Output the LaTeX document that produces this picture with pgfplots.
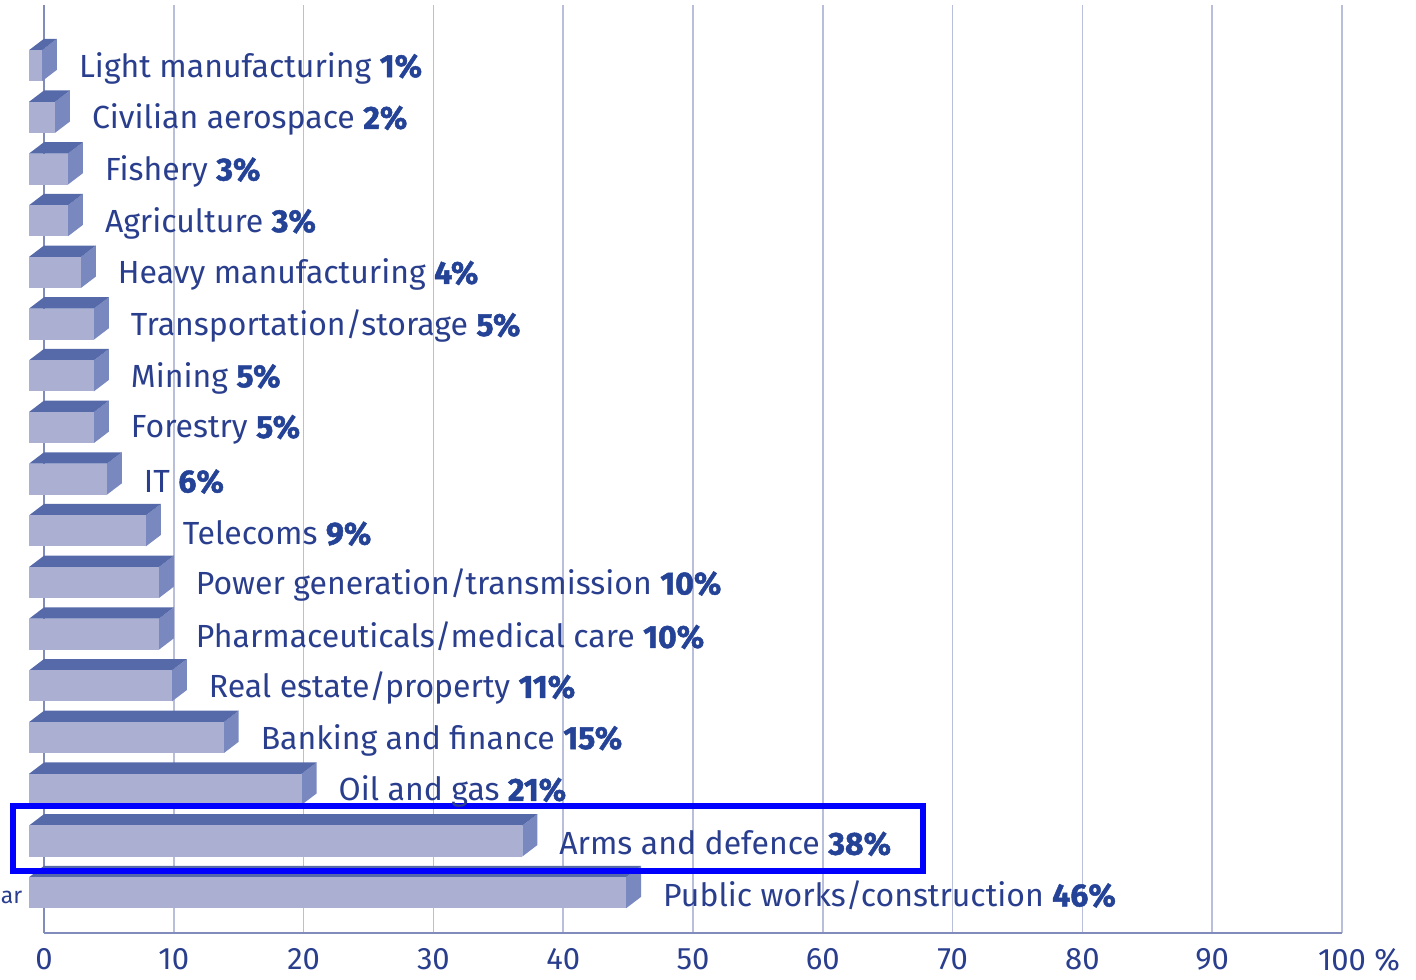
\documentclass[border=0pt]{standalone}
\usepackage{pgfplots}
\pgfplotsset{compat=1.18}
\usepackage{pgfplotstable}
\usepackage{fontspec}
\setmainfont{Fira Sans}
\newfontfamily\heavyfamily[FakeBold=1.5]{Fira Sans}
\definecolor{frontc}{RGB}{171,176,210}
\definecolor{topc}{RGB}{86,106,170}
\definecolor{sidec}{RGB}{122,136,192}
\definecolor{txtc}{RGB}{42,62,142}
\definecolor{numc}{RGB}{36,66,150}
\definecolor{gridc}{RGB}{185,190,218}
\definecolor{axisc}{RGB}{130,140,188}
\newcommand{\pct}[1]{\textcolor{numc}{\heavyfamily\bfseries #1\%}}
\pgfplotstableread{
i v
0 46
1 38
2 21
3 15
4 11
5 10
6 10
7 9
8 6
9 5
10 5
11 5
12 4
13 3
14 3
15 2
16 1
}\data
\begin{document}
\begin{tikzpicture}
\begin{axis}[
  x=6.49pt, y=25.845pt,
  xmin=0, xmax=100, ymin=-0.774, ymax=17.18,
  axis lines*=left,
  axis line style={color=axisc, line width=0.8pt},
  ytick=\empty,
  xtick={0,10,...,100},
  xticklabels={0,10,20,30,40,50,60,70,80,90,{100\rlap{ \%}}},
  major tick length=0pt,
  xmajorgrids,
  major grid style={color=gridc, line width=0.75pt},
  xticklabel style={text=txtc, font=\fontsize{15.5}{17}\selectfont, yshift=-4.5pt},
  /pgf/number format/assume math mode=true,
  clip=false,
]
\pgfplotsinvokeforeach{0,...,16}{
  \pgfplotstablegetelem{#1}{v}\of\data
  \pgfmathsetmacro\vv{\pgfplotsretval}
  \pgfmathsetmacro\va{\vv-1.15}
  \pgfmathsetmacro\ylo{#1-0.3}
  \pgfmathsetmacro\yhi{#1+0.3}
  \pgfmathsetmacro\ytop{#1+0.52}
  \pgfmathsetmacro\yside{#1-0.08}
  \addplot[fill=sidec, draw=none, forget plot] coordinates {(\va,\yhi) (\vv,\ytop) (\vv,\yside) (\va,\ylo)};
  \addplot[fill=topc, draw=none, forget plot] coordinates {(-1.15,\yhi) (0,\ytop) (\vv,\ytop) (\va,\yhi)};
  \addplot[fill=frontc, draw=none, forget plot] coordinates {(-1.15,\ylo) (-1.15,\yhi) (\va,\yhi) (\va,\ylo)};
}
\addplot[draw=none, mark=none, nodes near coords, point meta=explicit symbolic,
  nodes near coords align=horizontal,
  every node near coord/.append style={anchor=west, xshift=7.5pt, yshift=-1.2pt, text=txtc, font=\fontsize{16}{18}\selectfont}]
coordinates {
(46,0) [Public works/construction \pct{46}]
(38,1) [Arms and defence \pct{38}]
(21,2) [Oil and gas \pct{21}]
(15,3) [Banking and finance \pct{15}]
(11,4) [Real estate/property \pct{11}]
(10,5) [Pharmaceuticals/medical care \pct{10}]
(10,6) [Power generation/transmission \pct{10}]
(9,7) [Telecoms \pct{9}]
(6,8) [IT \pct{6}]
(5,9) [Forestry \pct{5}]
(5,10) [Mining \pct{5}]
(5,11) [Transportation/storage \pct{5}]
(4,12) [Heavy manufacturing \pct{4}]
(3,13) [Agriculture \pct{3}]
(3,14) [Fishery \pct{3}]
(2,15) [Civilian aerospace \pct{2}]
(1,16) [Light manufacturing \pct{1}]
};
\draw[blue, line width=3pt] (axis cs:-2.39,0.426) rectangle (axis cs:67.72,1.683);
\node[anchor=west, text=txtc, font=\fontsize{11.5}{13}\selectfont, inner sep=0pt] at (axis cs:-3.35,-0.1) {ar};
\coordinate (bbll) at (axis cs:-3.39,-1.683);
\coordinate (bbur) at (axis cs:105.7,17.27);
\end{axis}
\pgfresetboundingbox
\path (bbll) rectangle (bbur);
\end{tikzpicture}
\end{document}
